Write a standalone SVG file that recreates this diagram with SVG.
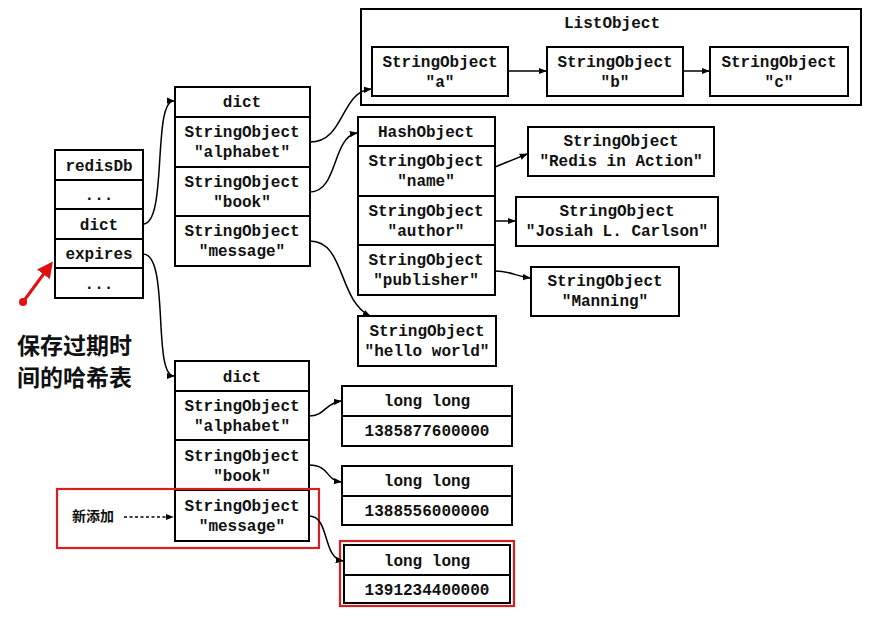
<svg xmlns="http://www.w3.org/2000/svg" width="887" height="620" viewBox="0 0 887 620">
<defs>
<marker id="ah" viewBox="0 0 10 10" refX="9" refY="5" markerWidth="8" markerHeight="8" orient="auto" markerUnits="userSpaceOnUse">
<path d="M0,1 L10,5 L0,9 z" fill="#000"/>
</marker>
<marker id="rh" viewBox="0 0 10 10" refX="8" refY="5" markerWidth="16" markerHeight="16" orient="auto" markerUnits="userSpaceOnUse">
<path d="M0,0 L10,5 L0,10 z" fill="#e01010"/>
</marker>
</defs>
<style>
.b{fill:#fff;stroke:#000;stroke-width:2}
.t{font-family:"Liberation Mono","DejaVu Sans Mono",monospace;font-size:16px;font-weight:bold;fill:#111;text-anchor:middle}
.c{fill:none;stroke:#000;stroke-width:1.5}
.r{fill:none;stroke:#d42020;stroke-width:2.2}
.zh{font-family:"Noto Sans CJK SC","Noto Sans",sans-serif;font-weight:bold;fill:#111}
</style>
<rect width="887" height="620" fill="#fff"/>

<g id="redisDb">
<rect class="b" x="55" y="150" width="88" height="148"/>
<line class="b" x1="55" y1="180" x2="143" y2="180"/>
<line class="b" x1="55" y1="209" x2="143" y2="209"/>
<line class="b" x1="55" y1="239" x2="143" y2="239"/>
<line class="b" x1="55" y1="268" x2="143" y2="268"/>
<text class="t" x="99" y="171">redisDb</text>
<text class="t" x="99" y="200">...</text>
<text class="t" x="99" y="230">dict</text>
<text class="t" x="99" y="259">expires</text>
<text class="t" x="99" y="289">...</text>
</g>

<g id="dict1">
<rect class="b" x="175" y="87" width="135" height="179"/>
<line class="b" x1="175" y1="117" x2="310" y2="117"/>
<line class="b" x1="175" y1="167" x2="310" y2="167"/>
<line class="b" x1="175" y1="216" x2="310" y2="216"/>
<text class="t" x="242" y="107">dict</text>
<text class="t" x="242" y="137">StringObject</text>
<text class="t" x="242" y="157">"alphabet"</text>
<text class="t" x="242" y="187">StringObject</text>
<text class="t" x="242" y="207">"book"</text>
<text class="t" x="242" y="236">StringObject</text>
<text class="t" x="242" y="256">"message"</text>
</g>

<g id="listObject">
<rect class="b" x="361" y="9" width="500" height="96"/>
<text class="t" x="612" y="28">ListObject</text>
<rect class="b" x="372" y="47" width="136" height="49"/>
<text class="t" x="440" y="67">StringObject</text>
<text class="t" x="440" y="87">"a"</text>
<rect class="b" x="547" y="47" width="136" height="49"/>
<text class="t" x="615" y="67">StringObject</text>
<text class="t" x="615" y="87">"b"</text>
<rect class="b" x="710" y="47" width="138" height="49"/>
<text class="t" x="779" y="67">StringObject</text>
<text class="t" x="779" y="87">"c"</text>
</g>

<g id="hashObject">
<rect class="b" x="358" y="117" width="137" height="178"/>
<line class="b" x1="358" y1="146" x2="495" y2="146"/>
<line class="b" x1="358" y1="196" x2="495" y2="196"/>
<line class="b" x1="358" y1="245" x2="495" y2="245"/>
<text class="t" x="426" y="137">HashObject</text>
<text class="t" x="426" y="166">StringObject</text>
<text class="t" x="426" y="186">"name"</text>
<text class="t" x="426" y="216">StringObject</text>
<text class="t" x="426" y="236">"author"</text>
<text class="t" x="426" y="265">StringObject</text>
<text class="t" x="426" y="285">"publisher"</text>
</g>

<g id="redisInAction">
<rect class="b" x="528" y="127" width="186" height="49"/>
<text class="t" x="621" y="146">StringObject</text>
<text class="t" x="621" y="166">"Redis in Action"</text>
</g>
<g id="josiah">
<rect class="b" x="516" y="197" width="202" height="49"/>
<text class="t" x="617" y="216">StringObject</text>
<text class="t" x="617" y="236">"Josiah L. Carlson"</text>
</g>
<g id="manning">
<rect class="b" x="531" y="267" width="148" height="49"/>
<text class="t" x="605" y="286">StringObject</text>
<text class="t" x="605" y="306">"Manning"</text>
</g>
<g id="helloWorld">
<rect class="b" x="358" y="316" width="138" height="50"/>
<text class="t" x="427" y="336">StringObject</text>
<text class="t" x="427" y="356">"hello world"</text>
</g>

<g id="dict2">
<rect class="b" x="175" y="361" width="134" height="180"/>
<line class="b" x1="175" y1="391" x2="309" y2="391"/>
<line class="b" x1="175" y1="440" x2="309" y2="440"/>
<line class="b" x1="175" y1="490" x2="309" y2="490"/>
<text class="t" x="242" y="382">dict</text>
<text class="t" x="242" y="411">StringObject</text>
<text class="t" x="242" y="431">"alphabet"</text>
<text class="t" x="242" y="461">StringObject</text>
<text class="t" x="242" y="481">"book"</text>
<text class="t" x="242" y="511">StringObject</text>
<text class="t" x="242" y="531">"message"</text>
</g>

<g id="longlong1">
<rect class="b" x="342" y="386" width="170" height="60"/>
<line class="b" x1="342" y1="416" x2="512" y2="416"/>
<text class="t" x="427" y="406">long long</text>
<text class="t" x="427" y="436">1385877600000</text>
</g>
<g id="longlong2">
<rect class="b" x="342" y="466" width="170" height="59"/>
<line class="b" x1="342" y1="496" x2="512" y2="496"/>
<text class="t" x="427" y="486">long long</text>
<text class="t" x="427" y="516">1388556000000</text>
</g>
<g id="longlong3">
<rect class="b" x="344" y="545" width="166" height="58"/>
<line class="b" x1="344" y1="575" x2="510" y2="575"/>
<text class="t" x="427" y="566">long long</text>
<text class="t" x="427" y="595">1391234400000</text>
<rect class="r" x="340" y="541" width="174" height="65"/>
</g>

<g id="annotations">
<rect class="r" x="57" y="489" width="262" height="59"/>
<text class="zh" x="72" y="521" font-size="14">新添加</text>
<line x1="124" y1="517" x2="173" y2="517" stroke="#000" stroke-width="1.3" stroke-dasharray="3,2.5" marker-end="url(#ah)"/>
<text class="zh" x="17" y="354" font-size="23">保存过期时</text>
<text class="zh" x="17" y="386" font-size="23">间的哈希表</text>
<line x1="23" y1="302" x2="51" y2="264" stroke="#e01010" stroke-width="3" marker-end="url(#rh)"/>
<circle cx="23" cy="302" r="4" fill="#e01010"/>
</g>

<g id="connectors">
<path class="c" d="M143,224 C168,224 152,100 174,101" marker-end="url(#ah)"/>
<path class="c" d="M143,254 C170,254 152,376 174,376" marker-end="url(#ah)"/>
<path class="c" d="M310,142 C345,142 340,92 371,89" marker-end="url(#ah)"/>
<path class="c" d="M310,192 C338,192 332,137 357,133" marker-end="url(#ah)"/>
<path class="c" d="M310,241 C345,241 338,300 370,316" marker-end="url(#ah)"/>
<path class="c" d="M495,167 L527,154" marker-end="url(#ah)"/>
<path class="c" d="M495,221 L515,221" marker-end="url(#ah)"/>
<path class="c" d="M495,271 C510,271 515,276 530,278" marker-end="url(#ah)"/>
<path class="c" d="M508,71 L546,71" marker-end="url(#ah)"/>
<path class="c" d="M683,71 L709,71" marker-end="url(#ah)"/>
<path class="c" d="M309,416 C325,416 325,403 341,401" marker-end="url(#ah)"/>
<path class="c" d="M309,465 C330,465 325,480 341,482" marker-end="url(#ah)"/>
<path class="c" d="M309,516 C330,516 322,558 343,561" marker-end="url(#ah)"/>
</g>
</svg>
